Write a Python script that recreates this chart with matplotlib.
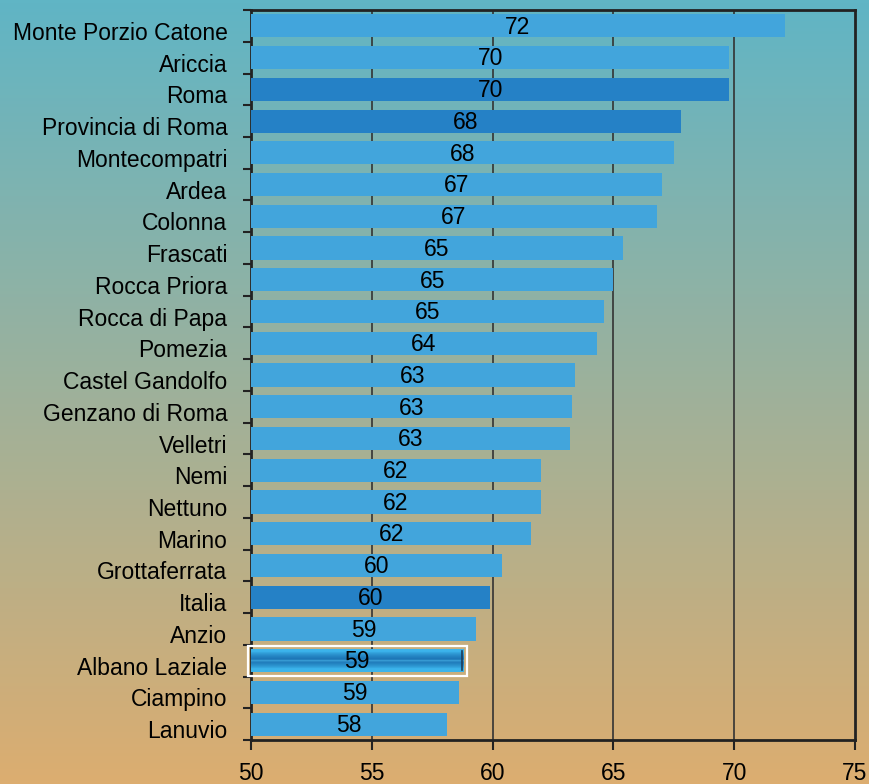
import matplotlib

matplotlib.use("Agg")
import matplotlib.pyplot as plt
import matplotlib.transforms as mtransforms
import numpy as np

plt.rcParams["font.family"] = ["Liberation Sans", "DejaVu Sans"]

COMUNI = [
    "Monte Porzio Catone", "Ariccia", "Roma", "Provincia di Roma", "Montecompatri",
    "Ardea", "Colonna", "Frascati", "Rocca Priora", "Rocca di Papa", "Pomezia",
    "Castel Gandolfo", "Genzano di Roma", "Velletri", "Nemi", "Nettuno", "Marino",
    "Grottaferrata", "Italia", "Anzio", "Albano Laziale", "Ciampino", "Lanuvio",
]
VALORI = [
    72.1, 69.8, 69.8, 67.8, 67.5, 67.0, 66.8, 65.4, 65.0, 64.6, 64.3, 63.4,
    63.3, 63.2, 62.0, 62.0, 61.6, 60.4, 59.9, 59.3, 58.8, 58.6, 58.1,
]
ETICHETTE = [72, 70, 70, 68, 68, 67, 67, 65, 65, 65, 64, 63, 63, 63, 62, 62, 62, 60, 60, 59, 59, 59, 58]
RIFERIMENTI = ["Roma", "Provincia di Roma", "Italia"]
EVIDENZIATO = "Albano Laziale"
X_TICKS = [50, 55, 60, 65, 70, 75]

LIGHT = "#42a5dc"
DARK = "#2581c6"
FS = 16.5

fig = plt.figure(figsize=(8.7, 7.84), dpi=100)

# background gradient teal -> tan
bg = fig.add_axes([0, 0, 1, 1], zorder=-10)
top = np.array([96, 181, 197]) / 255
bottom = np.array([220, 173, 112]) / 255
t = np.linspace(0, 1, 256)[:, None]
grad = (1 - t) * top + t * bottom
bg.imshow(grad[:, None, :].repeat(2, axis=1), aspect="auto", extent=[0, 1, 0, 1], origin="upper")
bg.axis("off")

ax = fig.add_axes([0.2885, 0.0561, 0.6943, 0.9311])
ax.patch.set_alpha(0)

n = len(COMUNI)
y = np.arange(n)
colors = [DARK if c in RIFERIMENTI else LIGHT for c in COMUNI]
bars = ax.barh(y, np.array(VALORI) - 50, left=50, height=0.73, color=colors, zorder=3)

# glossy highlighted bar: light rims, darker band, thin light streak in the middle
i = COMUNI.index(EVIDENZIATO)
hb = bars[i]
hb.set_facecolor("none")
g = np.linspace(-1, 1, 64)
c_rim = np.array([60, 180, 235]) / 255
c_mid = np.array([25, 110, 175]) / 255
w = np.clip(1 - np.abs(g) * 1.4, 0, 1) ** 0.7
img = (1 - w)[:, None] * c_rim + w[:, None] * c_mid
streak = np.exp(-((g - 0.05) / 0.08) ** 2)
img = img * (1 - 0.6 * streak[:, None]) + 0.6 * streak[:, None] * np.array([80, 190, 240]) / 255
img = np.repeat(img[:, None, :], 2, axis=1)
im = ax.imshow(img, aspect="auto", extent=[50, VALORI[i], i + 0.365, i - 0.365], zorder=3.5)
im.set_clip_path(hb)
ax.plot([VALORI[i] - 0.08] * 2, [i - 0.3, i + 0.3], color="#1a3c5a", linewidth=1.2, zorder=3.6)
ax.add_patch(plt.Rectangle((49.88, i - 0.47), VALORI[i] - 49.88 + 0.12, 0.94, fill=False,
                           edgecolor="white", linewidth=1.6, zorder=4, clip_on=False))

for k, (v, lab) in enumerate(zip(VALORI, ETICHETTE)):
    ax.text((50 + v) / 2, k + 0.04, str(lab), ha="center", va="center", fontsize=FS, zorder=5)

ax.set_xlim(50, 75)
ax.set_ylim(n - 0.5, -0.5)
ax.set_xticks(X_TICKS)
ax.set_xticklabels([str(x) for x in X_TICKS], fontsize=FS)
ax.set_yticks(y)
ax.set_yticklabels(COMUNI, fontsize=FS)
ax.set_yticks(np.arange(n + 1) - 0.5, minor=True)
ax.tick_params(axis="y", which="major", length=0, pad=17)
ax.tick_params(axis="y", which="minor", length=6, width=1.5, color="#222222")
ax.tick_params(axis="x", length=7, width=1.5, color="#222222", pad=9)
offset = mtransforms.ScaledTranslation(0, -5 / 100, fig.dpi_scale_trans)
for lbl in ax.get_yticklabels():
    lbl.set_transform(lbl.get_transform() + offset)

for x in X_TICKS[1:-1]:
    ax.axvline(x, color="#333333", linewidth=1.2, zorder=1)

for s in ax.spines.values():
    s.set_linewidth(2)
    s.set_color("#222222")

fig.savefig("out.png", dpi=100)
